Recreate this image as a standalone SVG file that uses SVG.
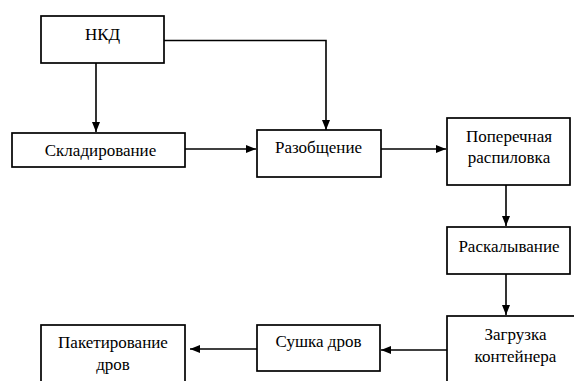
<svg xmlns="http://www.w3.org/2000/svg" width="574" height="381" viewBox="0 0 574 381">
<style>
.box{fill:#fff;stroke:#000;stroke-width:1.7}
.t{font-family:'Liberation Serif','DejaVu Serif',serif;font-size:17px;fill:#000;text-anchor:middle}
.c{fill:none;stroke:#000;stroke-width:1.6}
</style>
<defs>
<marker id="ah" markerUnits="userSpaceOnUse" markerWidth="10" markerHeight="10" viewBox="0 0 10 10" refX="10" refY="5" orient="auto">
<path d="M0,1 L10,5 L0,9 Z" fill="#000"/>
</marker>
</defs>
<rect width="574" height="381" fill="#fff"/>
<g id="connectors">
<path class="c" d="M96,63 V132" marker-end="url(#ah)"/>
<path class="c" d="M164,40.5 H326 V130" marker-end="url(#ah)"/>
<path class="c" d="M185,149 H256" marker-end="url(#ah)"/>
<path class="c" d="M381,149 H446" marker-end="url(#ah)"/>
<path class="c" d="M506,185 V226" marker-end="url(#ah)"/>
<path class="c" d="M506,274 V315" marker-end="url(#ah)"/>
<path class="c" d="M447,350 H381" marker-end="url(#ah)"/>
<path class="c" d="M257,349 H190" marker-end="url(#ah)"/>
</g>
<g id="n-nkd">
<rect class="box" x="41" y="16" width="123" height="47"/>
<text class="t" x="102.5" y="40">НКД</text>
</g>
<g id="n-skladirovanie">
<rect class="box" x="12" y="133" width="173" height="34"/>
<text class="t" x="100.5" y="156">Складирование</text>
</g>
<g id="n-razobshchenie">
<rect class="box" x="257" y="130" width="124" height="47"/>
<text class="t" x="318.5" y="153">Разобщение</text>
</g>
<g id="n-poperechnaya">
<rect class="box" x="447" y="118" width="123" height="67"/>
<text class="t" x="509" y="142">Поперечная</text>
<text class="t" x="509" y="163">распиловка</text>
</g>
<g id="n-raskalyvanie">
<rect class="box" x="447" y="227" width="123" height="47"/>
<text class="t" x="509" y="252">Раскалывание</text>
</g>
<g id="n-zagruzka">
<rect class="box" x="447" y="316" width="137" height="80"/>
<text class="t" x="515.5" y="340">Загрузка</text>
<text class="t" x="515.5" y="362">контейнера</text>
</g>
<g id="n-sushka">
<rect class="box" x="257" y="325" width="123" height="46"/>
<text class="t" x="318.5" y="347">Сушка дров</text>
</g>
<g id="n-paketirovanie">
<rect class="box" x="41" y="325" width="144" height="70"/>
<text class="t" x="113" y="348">Пакетирование</text>
<text class="t" x="113" y="370">дров</text>
</g>
</svg>
